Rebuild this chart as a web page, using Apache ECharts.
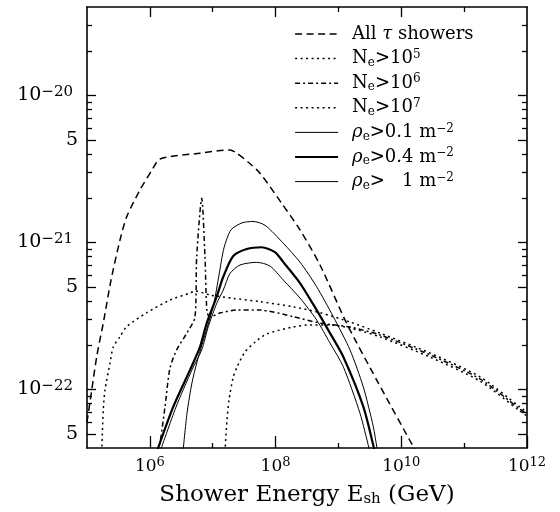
<!DOCTYPE html>
<html>
<head>
<meta charset="utf-8">
<script src="https://cdn.jsdelivr.net/npm/echarts@6/dist/echarts.min.js"></script>
<style>
  html, body { margin: 0; padding: 0; background: #ffffff; }
  #chart { width: 560px; height: 512px; }
</style>
</head>
<body>
<div id="chart"></div>
<script>
  // x values are log10(E_sh / GeV), y values are the rates
  const lgE_all = [5.000, 5.075, 5.159, 5.259, 5.382, 5.525, 5.632, 5.843, 6.034, 6.161, 6.798, 7.275, 7.381, 7.561, 7.752, 8.097, 8.388, 8.707, 9.131, 9.609, 10.191, 10.234];
  const allTau = [6.0e-23, 9.9e-23, 1.72e-22, 2.83e-22, 5.55e-22, 1.04e-21, 1.50e-21, 2.28e-21, 3.11e-21, 3.70e-21, 4.05e-21, 4.26e-21, 4.06e-21, 3.53e-21, 2.96e-21, 1.85e-21, 1.22e-21, 7.03e-22, 2.82e-22, 1.16e-22, 4.08e-23, 3.76e-23];

  const lgE_n5 = [5.234, 5.259, 5.286, 5.366, 5.418, 5.525, 5.632, 5.950, 6.320, 6.639, 6.718, 6.957, 7.327, 7.752, 8.282, 8.707, 9.184, 9.661, 10.457, 11.252, 11.888, 12.0];
  const ne5 = [3.76e-23, 7.26e-23, 9.93e-23, 1.51e-22, 1.95e-22, 2.29e-22, 2.68e-22, 3.33e-22, 4.06e-22, 4.53e-22, 4.68e-22, 4.39e-22, 4.17e-22, 3.96e-22, 3.65e-22, 3.33e-22, 2.88e-22, 2.42e-22, 1.77e-22, 1.22e-22, 7.6e-23, 7.0e-23];

  const lgE_n6 = [6.114, 6.161, 6.241, 6.320, 6.427, 6.586, 6.718, 6.745, 6.825, 6.877, 6.909, 6.957, 7.116, 7.381, 7.752, 8.282, 8.707, 9.184, 9.661, 10.457, 11.252, 11.888, 12.0];
  const ne6 = [3.76e-23, 4.33e-23, 7.64e-23, 1.40e-22, 1.86e-22, 2.41e-22, 3.11e-22, 8.0e-22, 2.0e-21, 8.0e-22, 3.37e-22, 3.11e-22, 3.31e-22, 3.47e-22, 3.47e-22, 3.13e-22, 2.83e-22, 2.66e-22, 2.35e-22, 1.72e-22, 1.18e-22, 7.36e-23, 6.8e-23];

  const lgE_n7 = [7.195, 7.227, 7.259, 7.323, 7.386, 7.514, 7.673, 7.864, 8.277, 8.548, 8.866, 9.184, 9.661, 10.457, 11.252, 11.888, 12.0];
  const ne7 = [3.76e-23, 6.19e-23, 8.48e-23, 1.20e-22, 1.42e-22, 1.80e-22, 2.10e-22, 2.39e-22, 2.66e-22, 2.75e-22, 2.75e-22, 2.62e-22, 2.28e-22, 1.66e-22, 1.14e-22, 7.14e-23, 6.6e-23];

  const lgE_r01 = [6.527, 6.591, 6.670, 6.750, 6.829, 6.925, 7.020, 7.100, 7.179, 7.291, 7.466, 7.641, 7.832, 8.123, 8.388, 8.654, 8.918, 9.184, 9.396, 9.555, 9.614, 9.630];
  const rho01 = [3.76e-23, 6.9e-23, 1.11e-22, 1.54e-22, 2.01e-22, 2.75e-22, 3.87e-22, 6.01e-22, 9.18e-22, 1.22e-21, 1.36e-21, 1.39e-21, 1.31e-21, 9.88e-22, 7.36e-22, 5.0e-22, 3.13e-22, 1.86e-22, 1.04e-22, 5.58e-23, 4.0e-23, 3.76e-23];

  const lgE_r04 = [6.109, 6.373, 6.639, 6.798, 6.904, 7.063, 7.168, 7.327, 7.541, 7.779, 7.990, 8.123, 8.388, 8.654, 8.866, 9.077, 9.396, 9.566, 9.582];
  const rho04 = [3.76e-23, 7.64e-23, 1.36e-22, 1.95e-22, 2.82e-22, 4.28e-22, 5.85e-22, 8.09e-22, 9.03e-22, 9.28e-22, 8.6e-22, 7.36e-22, 5.3e-22, 3.47e-22, 2.42e-22, 1.67e-22, 7.64e-23, 4.0e-23, 3.76e-23];

  const lgE_r1 = [6.161, 6.416, 6.670, 6.825, 6.930, 7.063, 7.168, 7.275, 7.434, 7.700, 7.911, 8.123, 8.388, 8.654, 8.866, 9.077, 9.343, 9.486, 9.502];
  const rho1 = [3.76e-23, 7.6e-23, 1.36e-22, 1.86e-22, 2.68e-22, 3.85e-22, 4.75e-22, 6.16e-22, 7.03e-22, 7.33e-22, 6.92e-22, 5.55e-22, 4.19e-22, 2.97e-22, 2.07e-22, 1.43e-22, 6.89e-23, 4.0e-23, 3.76e-23];

  // axis ticks
  const xLabelExps = [6, 8, 10, 12];
  const xMinorExps = [7, 9, 11];
  const yLabelVals = [5e-23, 1e-22, 5e-22, 1e-21, 5e-21, 1e-20];
  const yMinorVals = [6e-23, 7e-23, 8e-23, 9e-23, 2e-22, 3e-22, 4e-22, 6e-22, 7e-22, 8e-22, 9e-22,
    2e-21, 3e-21, 4e-21, 6e-21, 7e-21, 8e-21, 9e-21, 2e-20, 3e-20];

  const xMin = 5, xMax = 12;
  const yMin = Math.log10(4e-23), yMax = Math.log10(4e-20);

  const FONT = 'DejaVu Serif';

  // tick label styles
  const tickRich = {
    b: { fontFamily: FONT, fontSize: 17, color: '#000', lineHeight: 22 },
    s: { fontFamily: FONT, fontSize: 13, color: '#000', lineHeight: 12, verticalAlign: 'top' },
    by: { fontFamily: FONT, fontSize: 19, color: '#000', lineHeight: 22 },
    sy: { fontFamily: FONT, fontSize: 15, color: '#000', lineHeight: 12, verticalAlign: 'top', padding: [0, 5, 0, 0] }
  };

  // legend styles
  const legRich = {
    b: { fontFamily: FONT, fontSize: 18, color: '#000', lineHeight: 20 },
    g: { fontFamily: FONT, fontSize: 18, color: '#000', lineHeight: 20, fontStyle: 'italic' },
    s: { fontFamily: FONT, fontSize: 12, color: '#000', lineHeight: 10, verticalAlign: 'top' },
    u: { fontFamily: FONT, fontSize: 12, color: '#000', lineHeight: 10, verticalAlign: 'bottom' }
  };

  const toPairs = (xs, ys) => xs.map((x, i) => [x, Math.log10(ys[i])]);

  function xAxisCfg(pos, vals, len, labels) {
    return {
      type: 'value', position: pos, min: xMin, max: xMax,
      axisLine: { show: labels, lineStyle: { color: '#000', width: 1.6 } },
      splitLine: { show: false },
      axisTick: { show: true, inside: true, length: len, customValues: vals, lineStyle: { color: '#000', width: 1.3 } },
      axisLabel: {
        show: labels && pos === 'bottom', customValues: vals, margin: 8,
        formatter: v => '{b|10}{s|' + Math.round(v) + '}', rich: tickRich
      }
    };
  }

  function yAxisCfg(pos, vals, len, labels) {
    return {
      type: 'value', position: pos, min: yMin, max: yMax,
      axisLine: { show: labels, lineStyle: { color: '#000', width: 1.6 } },
      splitLine: { show: false },
      axisTick: { show: true, inside: true, length: len, customValues: vals.map(Math.log10), lineStyle: { color: '#000', width: 1.3 } },
      axisLabel: {
        show: labels && pos === 'left', customValues: vals.map(Math.log10), margin: 9,
        formatter: v => {
          const e = Math.floor(v + 1e-6);
          const m = Math.round(Math.pow(10, v - e));
          return m === 1 ? '{by|10}{sy|\u2212' + (-e) + '}' : '{by|' + m + '}';
        },
        rich: tickRich
      }
    };
  }

  const legendNames = {
    'All tau': '{b|All }{g|\u03c4}{b| showers}',
    'Ne5': '{b|N}{u|e}{b|>10}{s|5}',
    'Ne6': '{b|N}{u|e}{b|>10}{s|6}',
    'Ne7': '{b|N}{u|e}{b|>10}{s|7}',
    'rho01': '{g|\u03c1}{u|e}{b|>0.1 m}{s|\u22122}',
    'rho04': '{g|\u03c1}{u|e}{b|>0.4 m}{s|\u22122}',
    'rho1': '{g|\u03c1}{u|e}{b|>   1 m}{s|\u22122}'
  };

  function lineSeries(name, data, type, width) {
    return {
      name: name, type: 'line', data: data, symbol: 'none', smooth: 0.25,
      xAxisIndex: 0, yAxisIndex: 0, clip: true,
      lineStyle: { color: '#000', width: width, type: type },
      itemStyle: { color: '#000' }
    };
  }

  const myChart = echarts.init(document.getElementById('chart'));
  const option = {
    animation: false,
    backgroundColor: '#ffffff',
    grid: { left: 87, right: 33, top: 7, bottom: 64, containLabel: false },
    legend: {
      orient: 'vertical', left: 289, top: 19,
      itemWidth: 43, itemHeight: 14, itemGap: 4.6,
      data: Object.keys(legendNames),
      formatter: n => legendNames[n],
      itemStyle: { opacity: 0 },
      lineStyle: { width: 'inherit' },
      textStyle: { fontFamily: FONT, fontSize: 18, lineHeight: 20, color: '#000', padding: [0, 0, 0, 9], rich: legRich },
      selectedMode: false
    },
    xAxis: [
      Object.assign(xAxisCfg('bottom', xLabelExps, 12, true), {
        name: 'Shower Energy E{u|sh} (GeV)', nameLocation: 'middle', nameGap: 36,
        nameTextStyle: { fontFamily: FONT, fontSize: 23, color: '#000',
          rich: { u: { fontFamily: FONT, fontSize: 15, color: '#000', lineHeight: 14, verticalAlign: 'bottom' } } }
      }),
      xAxisCfg('bottom', xMinorExps, 5, false),
      Object.assign(xAxisCfg('top', [6, 8, 10], 10, true), { axisLabel: { show: false } }),
      xAxisCfg('top', xMinorExps, 5, false)
    ],
    yAxis: [
      yAxisCfg('left', yLabelVals, 9, true),
      yAxisCfg('left', yMinorVals, 5, false),
      Object.assign(yAxisCfg('right', yLabelVals, 9, true), { axisLabel: { show: false } }),
      yAxisCfg('right', yMinorVals, 5, false)
    ],
    series: [
      lineSeries('All tau', toPairs(lgE_all, allTau), [7, 4.5], 1.5),
      lineSeries('Ne5', toPairs(lgE_n5, ne5), [2, 3.5], 1.5),
      lineSeries('Ne6', toPairs(lgE_n6, ne6), [5, 3, 2, 3], 1.5),
      lineSeries('Ne7', toPairs(lgE_n7, ne7), [2, 3.5], 1.5),
      lineSeries('rho01', toPairs(lgE_r01, rho01), 'solid', 1),
      lineSeries('rho04', toPairs(lgE_r04, rho04), 'solid', 2.2),
      lineSeries('rho1', toPairs(lgE_r1, rho1), 'solid', 1)
    ]
  };
  myChart.setOption(option);
</script>
</body>
</html>
